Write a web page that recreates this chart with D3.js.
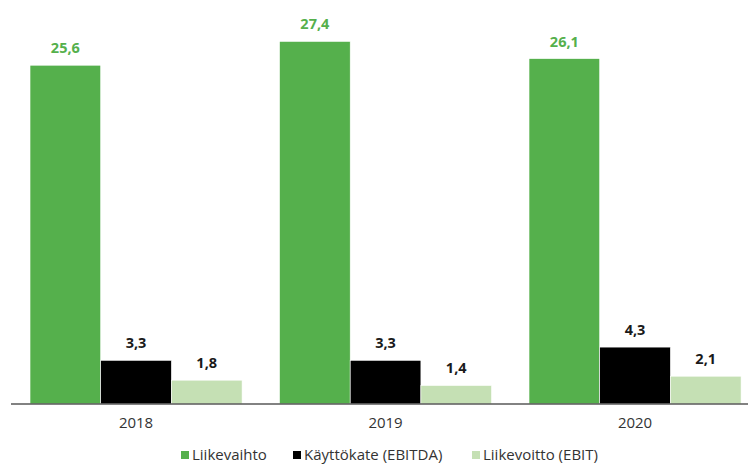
<!DOCTYPE html>
<html>
<head>
<meta charset="utf-8">
<script src="https://cdn.jsdelivr.net/npm/d3@7"></script>
<style>
  body { margin: 0; background: #fff; }
  text { font-family: "Open Sans", "Noto Sans", sans-serif; }
</style>
</head>
<body>
<svg width="749" height="465"></svg>
<script>
var years = ["2018", "2019", "2020"];
var seriesNames = ["Liikevaihto", "Käyttökate (EBITDA)", "Liikevoitto (EBIT)"];
var liikevaihto = [25.6, 27.4, 26.1];
var ebitda = [3.3, 3.3, 4.3];
var ebit = [1.8, 1.4, 2.1];
var colors = ["#55b04c", "#000000", "#c5e0b4"];
var labelColors = ["#55b04c", "#1a1a1a", "#1a1a1a"];

var svg = d3.select("svg"),
    width = +svg.attr("width"),
    height = +svg.attr("height");

var axisLeft = 11, axisRight = 748;
var baseY = 404;

var rows = years.map(function(y, i) {
  return {year: y, values: [liikevaihto[i], ebitda[i], ebit[i]]};
});

var x0 = d3.scaleBand()
    .domain(years)
    .range([11.3, 759.8])
    .paddingInner(0.15)
    .paddingOuter(0.075);

var x1 = d3.scaleBand()
    .domain(d3.range(seriesNames.length))
    .range([0, x0.bandwidth()]);

var y = d3.scaleLinear()
    .domain([0, 30])
    .range([baseY, 7]);

var fmt = function(v) { return d3.format(".1f")(v).replace(".", ","); };

var groups = svg.append("g").selectAll("g")
  .data(rows)
  .enter().append("g")
    .attr("transform", function(d) { return "translate(" + x0(d.year) + ",0)"; });

groups.selectAll("rect")
  .data(function(d) { return d.values; })
  .enter().append("rect")
    .attr("x", function(d, i) { return x1(i); })
    .attr("y", function(d) { return y(d); })
    .attr("width", x1.bandwidth())
    .attr("height", function(d) { return baseY - y(d); })
    .attr("fill", function(d, i) { return colors[i]; })
    .attr("stroke", "#fff")
    .attr("stroke-width", 0.6);

groups.selectAll("text")
  .data(function(d) { return d.values; })
  .enter().append("text")
    .attr("x", function(d, i) { return x1(i) + x1.bandwidth() / 2; })
    .attr("y", function(d) { return y(d) - 12; })
    .attr("text-anchor", "middle")
    .attr("font-size", 14.5)
    .attr("font-weight", "bold")
    .attr("fill", function(d, i) { return labelColors[i]; })
    .text(fmt);

var xAxis = svg.append("g")
    .attr("transform", "translate(0," + baseY + ")")
    .call(d3.axisBottom(x0).tickSize(0).tickPadding(13));
xAxis.select(".domain")
    .attr("d", "M" + axisLeft + ",0H" + axisRight)
    .attr("stroke", "#595959")
    .attr("stroke-width", 1.3);
xAxis.selectAll("text")
    .attr("font-size", 15)
    .attr("fill", "#333")
    .style("font-family", "'Open Sans', 'Noto Sans', sans-serif");

var legendX = [181, 293, 472];
var legend = svg.append("g").selectAll("g")
  .data(seriesNames)
  .enter().append("g")
    .attr("transform", function(d, i) { return "translate(" + legendX[i] + ",455)"; });
legend.append("rect")
    .attr("y", -4)
    .attr("width", 8)
    .attr("height", 8)
    .attr("fill", function(d, i) { return colors[i]; });
legend.append("text")
    .attr("x", 11)
    .attr("dy", "0.35em")
    .attr("font-size", 15)
    .attr("fill", "#333")
    .text(function(d) { return d; });
</script>
</body>
</html>
